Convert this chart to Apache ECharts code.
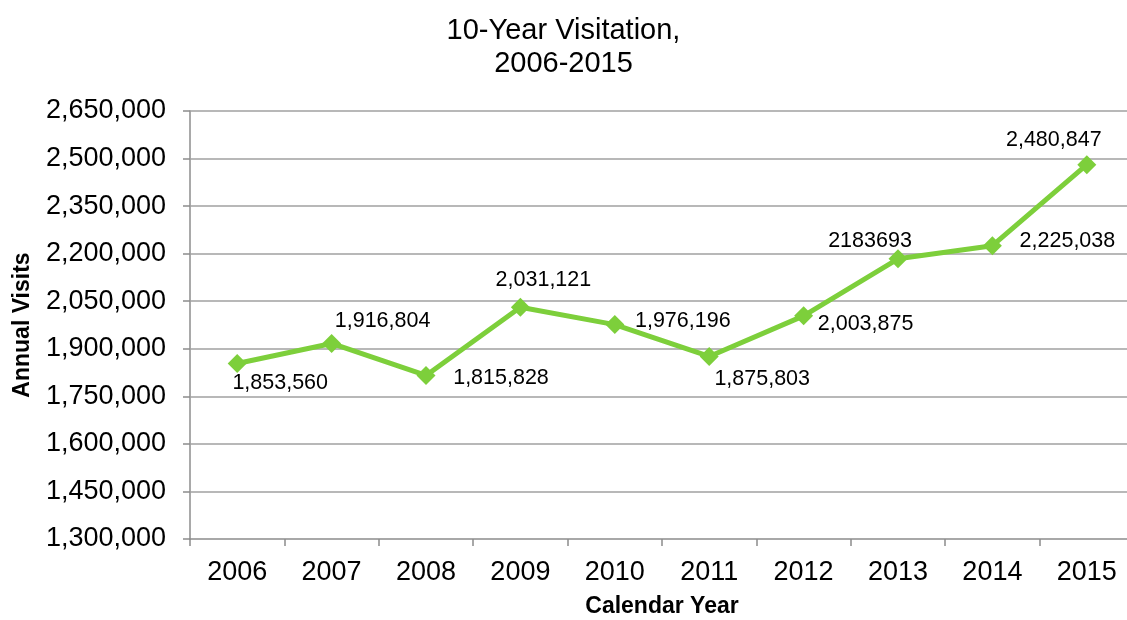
<!DOCTYPE html>
<html>
<head>
<meta charset="utf-8">
<script src="https://cdn.jsdelivr.net/npm/echarts@6/dist/echarts.min.js"></script>
<style>
html,body{margin:0;padding:0;background:#fff;}
#chart{width:1127px;height:620px;}
</style>
</head>
<body>
<div id="chart"></div>
<script>
const years = ['2006','2007','2008','2009','2010','2011','2012','2013','2014','2015'];
const visits = [1853560, 1916804, 1815828, 2031121, 1976196, 1875803, 2003875, 2183693, 2225038, 2480847];
const visitLabels = ['1,853,560','1,916,804','1,815,828','2,031,121','1,976,196','1,875,803','2,003,875','2183693','2,225,038','2,480,847'];
const yTicks = [1300000, 1450000, 1600000, 1750000, 1900000, 2050000, 2200000, 2350000, 2500000, 2650000];

// label placement (style only)
const labelOffsets = [[43,20],[51,-22],[75,3],[23,-27],[68,-4],[53,23],[62,8],[-28,-18],[75,-5],[-33,-25]];

const FONT = '"Liberation Sans", Arial, sans-serif';
const fmt = v => v.toLocaleString('en-US');

const chart = echarts.init(document.getElementById('chart'), null, {renderer:'canvas'});
chart.setOption({
  animation: false,
  backgroundColor: '#fff',
  title: {
    text: '10-Year Visitation,\n2006-2015',
    left: 'center',
    top: 9,
    textStyle: {fontFamily: FONT, fontSize: 29, fontWeight: 'normal', color: '#000', lineHeight: 33}
  },
  grid: {left: 190, width: 944, top: 111, bottom: 81, containLabel: false, outerBoundsMode: 'none'},
  xAxis: {
    type: 'category',
    data: years,
    boundaryGap: true,
    name: 'Calendar Year',
    nameLocation: 'middle',
    nameGap: 56,
    nameTextStyle: {fontFamily: FONT, fontSize: 23, fontWeight: 'bold', color: '#000'},
    axisLine: {show: true, lineStyle: {color: '#8c8c8c', width: 1.5}},
    axisTick: {show: true, length: 7, lineStyle: {color: '#8c8c8c', width: 1.5}},
    axisLabel: {fontFamily: FONT, fontSize: 27, color: '#000', margin: 20},
    splitLine: {show: false}
  },
  yAxis: {
    type: 'value',
    min: 1300000,
    max: 2650000,
    name: 'Annual Visits',
    nameLocation: 'middle',
    nameGap: 156,
    nameTextStyle: {fontFamily: FONT, fontSize: 23, fontWeight: 'bold', color: '#000'},
    axisLine: {show: true, lineStyle: {color: '#8c8c8c', width: 1.5}},
    axisTick: {show: true, length: 7, customValues: yTicks, lineStyle: {color: '#8c8c8c', width: 1.5}},
    axisLabel: {fontFamily: FONT, fontSize: 27, color: '#000', margin: 24, customValues: yTicks, formatter: v => fmt(v)},
    splitLine: {show: false}
  },
  series: [{
    type: 'line',
    data: visits.map((v, i) => ({
      value: v,
      label: {offset: labelOffsets[i], formatter: visitLabels[i]}
    })),
    symbol: 'diamond',
    symbolSize: 19,
    lineStyle: {color: '#7dcf3b', width: 5},
    itemStyle: {color: '#7dcf3b'},
    label: {
      show: true,
      position: 'inside',
      fontFamily: FONT,
      fontSize: 21.5,
      color: '#000'
    },
    markLine: {
      silent: true,
      symbol: ['none','none'],
      label: {show: false},
      lineStyle: {color: '#a0a0a0', width: 1.5, type: 'solid'},
      data: yTicks.slice(1).map(t => ({yAxis: t})),
      z: 1
    },
    z: 3
  }]
});
</script>
</body>
</html>
